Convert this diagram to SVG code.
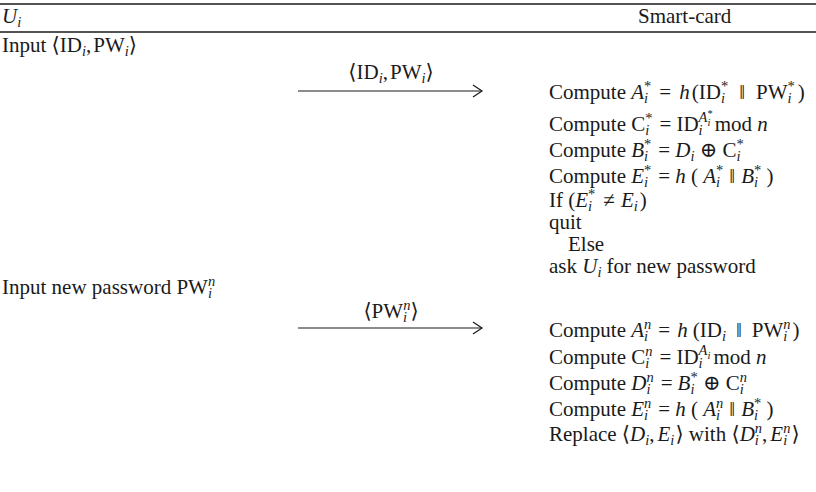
<svg xmlns="http://www.w3.org/2000/svg" width="816" height="492" viewBox="0 0 816 492">
<defs>
<style>
text { font-family: "Liberation Serif", "DejaVu Serif", serif; font-size: 21px; fill: #1a1a1a; }
.it { font-style: italic; }
.sb { font-size: 14.5px; baseline-shift: -4px; }
.sp { font-size: 14.5px; baseline-shift: 8px; }
.ss { font-size: 10.5px; }
.rule { stroke: #1a1a1a; fill: none; }
.msg { stroke: #1a1a1a; stroke-width: 1.2; fill: none; }
</style>
<marker id="arr" markerUnits="userSpaceOnUse" markerWidth="12" markerHeight="14" refX="10" refY="7" orient="auto">
<path d="M1,1 L10,7 L1,13" fill="none" stroke="#1a1a1a" stroke-width="1.2"/>
</marker>
</defs>
<rect width="816" height="492" fill="#ffffff"/>
<g id="header">
<line class="rule" x1="0" y1="4" x2="816" y2="4" stroke-width="1.6"/>
<line class="rule" x1="0" y1="32" x2="816" y2="32" stroke-width="1.3"/>
<text x="2" y="23"><tspan class="it">U</tspan><tspan class="sb it">i</tspan></text>
<text x="638" y="23">Smart-card</text>
</g>
<g id="user">
<text x="2" y="52">Input ⟨ID<tspan class="sb it">i</tspan>,<tspan dx="2">PW</tspan><tspan class="sb it">i</tspan>⟩</text>
<text x="2" y="294">Input new password PW<tspan class="sb it">i</tspan><tspan class="sp it" dx="-4">n</tspan></text>
</g>
<g id="connectors">
<line class="msg" x1="298" y1="91" x2="482" y2="91" marker-end="url(#arr)"/>
<text x="391" y="79" text-anchor="middle">⟨ID<tspan class="sb it">i</tspan>,<tspan dx="2">PW</tspan><tspan class="sb it">i</tspan>⟩</text>
<line class="msg" x1="298" y1="328" x2="482" y2="328" marker-end="url(#arr)"/>
<text x="391" y="318" text-anchor="middle">⟨PW<tspan class="sb it">i</tspan><tspan class="sp it" dx="-4">n</tspan>⟩</text>
</g>
<g id="card-verify">
<text x="549" y="99">Compute <tspan class="it">A</tspan><tspan class="sb it">i</tspan><tspan class="sp" dx="-4">*</tspan><tspan dx="8">=</tspan><tspan class="it" dx="8">h</tspan><tspan dx="2">(</tspan>ID<tspan class="sb it">i</tspan><tspan class="sp" dx="-4">*</tspan><tspan dx="11">‖</tspan><tspan dx="11">PW</tspan><tspan class="sb it">i</tspan><tspan class="sp" dx="-4">*</tspan><tspan dx="3">)</tspan></text>
<text x="549" y="131">Compute C<tspan class="sb it">i</tspan><tspan class="sp" dx="-4">*</tspan><tspan dx="7">=</tspan><tspan dx="5">ID</tspan><tspan class="sb it">i</tspan><tspan class="sp it" dx="-4" style="baseline-shift:9px">A</tspan><tspan class="ss it" style="baseline-shift:5px">i</tspan><tspan class="ss" dx="-3" style="baseline-shift:14px">*</tspan><tspan dx="2">mod </tspan><tspan class="it">n</tspan></text>
<text x="549" y="157">Compute <tspan class="it">B</tspan><tspan class="sb it">i</tspan><tspan class="sp" dx="-4">*</tspan><tspan dx="7">=</tspan><tspan class="it" dx="5">D</tspan><tspan class="sb it">i</tspan> ⊕ C<tspan class="sb it">i</tspan><tspan class="sp" dx="-4">*</tspan></text>
<text x="549" y="183">Compute <tspan class="it">E</tspan><tspan class="sb it">i</tspan><tspan class="sp" dx="-4">*</tspan><tspan dx="7">=</tspan><tspan class="it" dx="5">h</tspan> ( <tspan class="it">A</tspan><tspan class="sb it">i</tspan><tspan class="sp" dx="-4">*</tspan><tspan dx="6">‖</tspan><tspan class="it" dx="6">B</tspan><tspan class="sb it">i</tspan><tspan class="sp" dx="-4">*</tspan> )</text>
<text x="549" y="207">If (<tspan class="it">E</tspan><tspan class="sb it">i</tspan><tspan class="sp" dx="-4">*</tspan><tspan dx="8">≠</tspan><tspan class="it" dx="6">E</tspan><tspan class="sb it">i</tspan><tspan dx="2">)</tspan></text>
<text x="549" y="229">quit</text>
<text x="568" y="251">Else</text>
<text x="549" y="273">ask <tspan class="it">U</tspan><tspan class="sb it">i</tspan><tspan dx="5">for new password</tspan></text>
</g>
<g id="card-update">
<text x="549" y="337">Compute <tspan class="it">A</tspan><tspan class="sb it">i</tspan><tspan class="sp it" dx="-4">n</tspan><tspan dx="7">=</tspan><tspan class="it" dx="7">h</tspan><tspan dx="5">(</tspan>ID<tspan class="sb it">i</tspan><tspan dx="10">‖</tspan><tspan dx="10">PW</tspan><tspan class="sb it">i</tspan><tspan class="sp it" dx="-4">n</tspan><tspan dx="2">)</tspan></text>
<text x="549" y="364">Compute C<tspan class="sb it">i</tspan><tspan class="sp it" dx="-4">n</tspan><tspan dx="7">=</tspan><tspan dx="5">ID</tspan><tspan class="sb it">i</tspan><tspan class="sp it" dx="-4" style="baseline-shift:9px">A</tspan><tspan class="ss it" style="baseline-shift:5px">i</tspan><tspan dx="3">mod </tspan><tspan class="it">n</tspan></text>
<text x="549" y="390">Compute <tspan class="it">D</tspan><tspan class="sb it">i</tspan><tspan class="sp it" dx="-4">n</tspan><tspan dx="7">=</tspan><tspan class="it" dx="5">B</tspan><tspan class="sb it">i</tspan><tspan class="sp" dx="-4">*</tspan> ⊕ C<tspan class="sb it">i</tspan><tspan class="sp it" dx="-4">n</tspan></text>
<text x="549" y="416">Compute <tspan class="it">E</tspan><tspan class="sb it">i</tspan><tspan class="sp it" dx="-4">n</tspan><tspan dx="7">=</tspan><tspan class="it" dx="5">h</tspan> ( <tspan class="it">A</tspan><tspan class="sb it">i</tspan><tspan class="sp it" dx="-4">n</tspan><tspan dx="6">‖</tspan><tspan class="it" dx="6">B</tspan><tspan class="sb it">i</tspan><tspan class="sp" dx="-4">*</tspan> )</text>
<text x="549" y="441">Replace ⟨<tspan class="it">D</tspan><tspan class="sb it">i</tspan>,<tspan class="it" dx="3">E</tspan><tspan class="sb it">i</tspan><tspan dx="1">⟩</tspan> with ⟨<tspan class="it">D</tspan><tspan class="sb it">i</tspan><tspan class="sp it" dx="-4">n</tspan>,<tspan class="it" dx="3">E</tspan><tspan class="sb it">i</tspan><tspan class="sp it" dx="-4">n</tspan><tspan dx="1">⟩</tspan></text>
</g>
</svg>
